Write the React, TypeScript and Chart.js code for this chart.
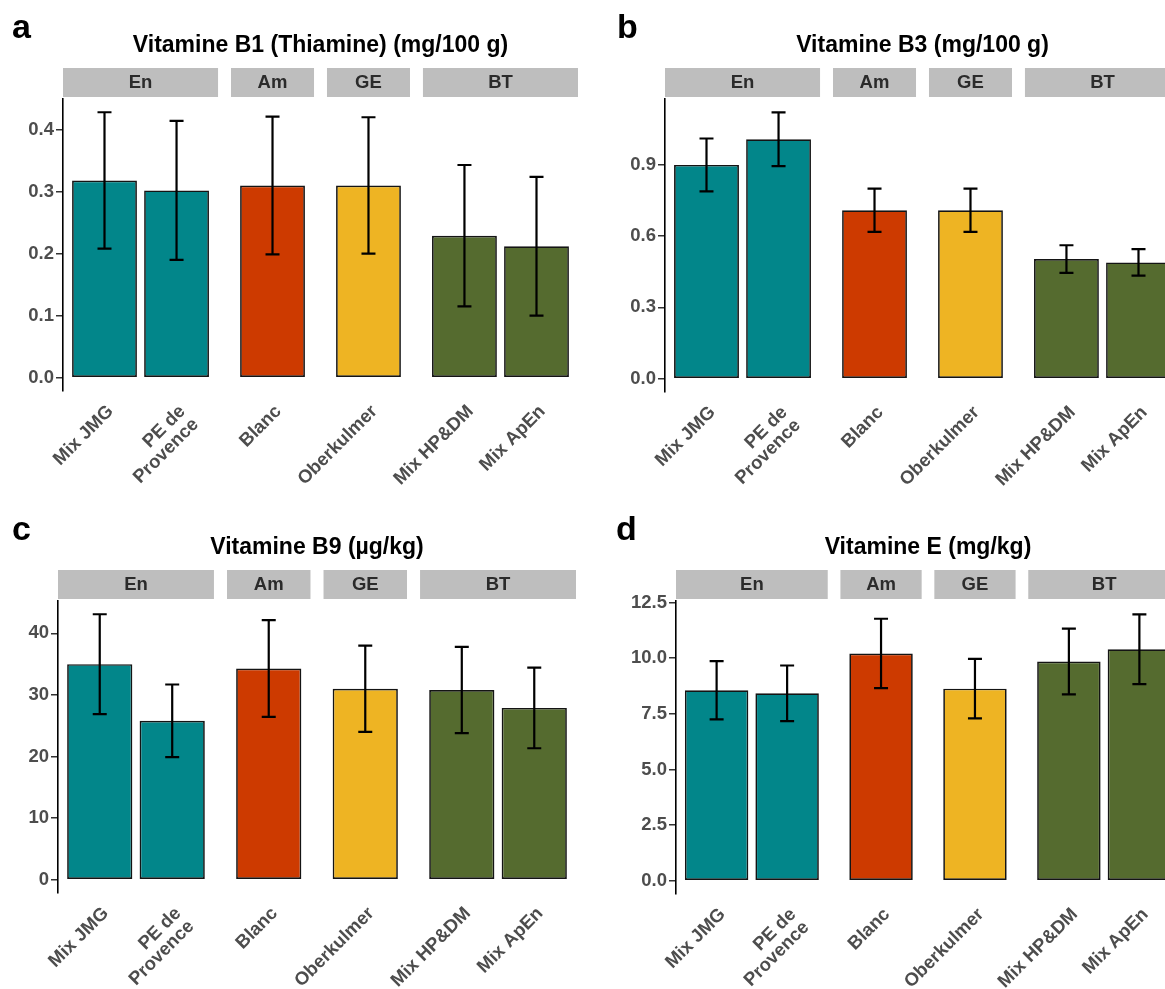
import React, { useEffect, useRef } from "react";
import { Chart, registerables } from "chart.js";

Chart.register(...registerables);

const FONT = "'Liberation Sans', Arial, Helvetica, sans-serif";

// ---------- data ----------
const facets = ["En", "Am", "GE", "BT"];
const categories = ["Mix JMG", "PE de\nProvence", "Blanc", "Oberkulmer", "Mix HP&DM", "Mix ApEn"];
const categoryFacet = ["En", "En", "Am", "GE", "BT", "BT"];

const b1Values = [0.318, 0.302, 0.310, 0.310, 0.229, 0.212];
const b1Errors = [0.110, 0.112, 0.111, 0.110, 0.114, 0.112];
const b1Ticks = [0, 0.1, 0.2, 0.3, 0.4];
const b1TickLabels = ["0.0", "0.1", "0.2", "0.3", "0.4"];

const b3Values = [0.899, 1.007, 0.708, 0.708, 0.503, 0.489];
const b3Errors = [0.111, 0.113, 0.091, 0.091, 0.058, 0.056];
const b3Ticks = [0, 0.3, 0.6, 0.9];
const b3TickLabels = ["0.0", "0.3", "0.6", "0.9"];

const b9Values = [35.0, 25.8, 34.3, 31.0, 30.8, 27.9];
const b9Errors = [8.1, 5.9, 7.85, 7.0, 7.0, 6.55];
const b9Ticks = [0, 10, 20, 30, 40];
const b9TickLabels = ["0", "10", "20", "30", "40"];

const eValues = [8.56, 8.42, 10.21, 8.63, 9.85, 10.40];
const eErrors = [1.31, 1.25, 1.56, 1.34, 1.48, 1.57];
const eTicks = [0, 2.5, 5, 7.5, 10, 12.5];
const eTickLabels = ["0.0", "2.5", "5.0", "7.5", "10.0", "12.5"];

// ---------- styles ----------
const facetColors: Record<string, string> = {
  En: "#02868A",
  Am: "#CD3A00",
  GE: "#EEB423",
  BT: "#556B2F",
};

const panels = [
  { letter: "a", title: "Vitamine B1 (Thiamine) (mg/100 g)", values: b1Values, errors: b1Errors, ticks: b1Ticks, tickLabels: b1TickLabels,
    left: 0, top: 0, width: 590, height: 490, area: { left: 63, top: 99, right: 578, bottom: 391 }, letterX: 12, letterY: 38 },
  { letter: "b", title: "Vitamine B3 (mg/100 g)", values: b3Values, errors: b3Errors, ticks: b3Ticks, tickLabels: b3TickLabels,
    left: 590, top: 0, width: 610, height: 490, area: { left: 75, top: 99, right: 590, bottom: 392 }, letterX: 27, letterY: 38 },
  { letter: "c", title: "Vitamine B9 (µg/kg)", values: b9Values, errors: b9Errors, ticks: b9Ticks, tickLabels: b9TickLabels,
    left: 0, top: 490, width: 590, height: 499, area: { left: 58, top: 111, right: 576, bottom: 403 }, letterX: 12, letterY: 50 },
  { letter: "d", title: "Vitamine E (mg/kg)", values: eValues, errors: eErrors, ticks: eTicks, tickLabels: eTickLabels,
    left: 590, top: 490, width: 610, height: 499, area: { left: 86, top: 111, right: 590, bottom: 404 }, letterX: 26, letterY: 50 },
];

const HALF = 0.576;
const GAP = 0.18;

function facetLayout() {
  const positions: number[] = [];
  const spans: { name: string; start: number; end: number }[] = [];
  let cursor = 0;
  facets.forEach((f) => {
    const idx = categoryFacet.map((c, i) => (c === f ? i : -1)).filter((i) => i >= 0);
    const start = cursor;
    idx.forEach((ci, k) => {
      positions[ci] = start + HALF + k;
    });
    const end = start + 2 * HALF + idx.length - 1;
    spans.push({ name: f, start, end });
    cursor = end + GAP;
  });
  return { positions, spans, total: cursor - GAP };
}

function Panel({ cfg }: { cfg: any }) {
  const ref = useRef<HTMLCanvasElement>(null);
  useEffect(() => {
    if (!ref.current) return;
    const { positions, spans, total } = facetLayout();
    const maxTop = Math.max(...cfg.values.map((v: number, i: number) => v + cfg.errors[i]));
    const yMin = -0.05 * maxTop;
    const yMax = 1.05 * maxTop;
    const area = cfg.area;

    const decor = {
      id: "decor",
      afterDatasetsDraw(chart: any) {
        const ctx = chart.ctx;
        const ys = chart.scales.y;
        const meta = chart.getDatasetMeta(0);
        ctx.save();
        ctx.strokeStyle = "#000";
        ctx.lineWidth = 2.2;
        meta.data.forEach((bar: any, i: number) => {
          const x = bar.x;
          const lo = ys.getPixelForValue(cfg.values[i] - cfg.errors[i]);
          const hi = ys.getPixelForValue(cfg.values[i] + cfg.errors[i]);
          const cap = 7;
          ctx.beginPath();
          ctx.moveTo(x, lo);
          ctx.lineTo(x, hi);
          ctx.moveTo(x - cap, lo);
          ctx.lineTo(x + cap, lo);
          ctx.moveTo(x - cap, hi);
          ctx.lineTo(x + cap, hi);
          ctx.stroke();
        });
        ctx.restore();
      },
      afterDraw(chart: any) {
        const ctx = chart.ctx;
        const xs = chart.scales.x;
        const ca = chart.chartArea;
        ctx.save();
        // facet strips
        spans.forEach((s) => {
          const x0 = xs.getPixelForValue(s.start);
          const x1 = xs.getPixelForValue(s.end);
          ctx.fillStyle = "#BEBEBE";
          ctx.fillRect(x0, ca.top - 31, x1 - x0, 29);
          ctx.fillStyle = "#2B2B2B";
          ctx.font = `bold 18.5px ${FONT}`;
          ctx.textAlign = "center";
          ctx.textBaseline = "middle";
          ctx.fillText(s.name, (x0 + x1) / 2, ca.top - 16);
        });
        // title
        ctx.fillStyle = "#000";
        ctx.font = `bold 23px ${FONT}`;
        ctx.textAlign = "center";
        ctx.textBaseline = "alphabetic";
        ctx.fillText(cfg.title, (ca.left + ca.right) / 2, ca.top - 47);
        // panel letter
        ctx.font = `bold 34px ${FONT}`;
        ctx.textAlign = "left";
        ctx.fillText(cfg.letter, cfg.letterX, cfg.letterY);
        ctx.restore();
      },
    };

    const chart = new Chart(ref.current, {
      type: "bar",
      data: {
        datasets: [
          {
            data: cfg.values.map((v: number, i: number) => ({ x: positions[i], y: v })),
            backgroundColor: categoryFacet.map((f) => facetColors[f]),
            borderColor: "#141414",
            borderWidth: 1.7,
            borderSkipped: false,
            categoryPercentage: 1,
            barPercentage: 0.9,
          } as any,
        ],
      },
      options: {
        responsive: false,
        animation: false,
        devicePixelRatio: 1,
        layout: { padding: { top: area.top, left: 0, right: cfg.width - area.right, bottom: 0 } },
        plugins: { legend: { display: false }, tooltip: { enabled: false }, title: { display: false } },
        scales: {
          x: {
            type: "linear",
            min: 0,
            max: total,
            offset: false,
            grid: { display: false },
            border: { display: false },
            afterBuildTicks: (s: any) => {
              s.ticks = positions.map((v) => ({ value: v }));
            },
            afterFit: (s: any) => {
              s.height = cfg.height - area.bottom;
              s.paddingLeft = 0;
              s.paddingRight = 0;
            },
            ticks: {
              autoSkip: false,
              minRotation: 45,
              maxRotation: 45,
              padding: 3,
              labelOffset: 6,
              color: "#4D4D4D",
              font: { family: FONT, size: 18.5, weight: "bold", lineHeight: 1.0 },
              callback: (_v: any, i: number) => categories[i].split("\n"),
            },
          },
          y: {
            min: yMin,
            max: yMax,
            grid: { drawOnChartArea: false, color: "#333333", tickLength: 7, lineWidth: 1.5 },
            border: { color: "#000000", width: 1.6 },
            afterBuildTicks: (s: any) => {
              s.ticks = cfg.ticks.map((v: number) => ({ value: v }));
            },
            afterFit: (s: any) => {
              s.width = area.left;
            },
            ticks: {
              color: "#4D4D4D",
              padding: 2,
              font: { family: FONT, size: 18.5, weight: "bold" },
              callback: (_v: any, i: number) => cfg.tickLabels[i],
            },
          },
        } as any,
      },
      plugins: [decor],
    });
    return () => chart.destroy();
  }, []);
  return (
    <canvas
      ref={ref}
      width={cfg.width}
      height={cfg.height}
      style={{ position: "absolute", left: cfg.left, top: cfg.top, width: cfg.width, height: cfg.height }}
    />
  );
}

export default function App() {
  return (
    <div
      style={{
        position: "absolute",
        left: 0,
        top: 0,
        width: 1165,
        height: 989,
        overflow: "hidden",
        background: "#ffffff",
      }}
    >
      {panels.map((p) => (
        <Panel key={p.letter} cfg={p} />
      ))}
    </div>
  );
}
